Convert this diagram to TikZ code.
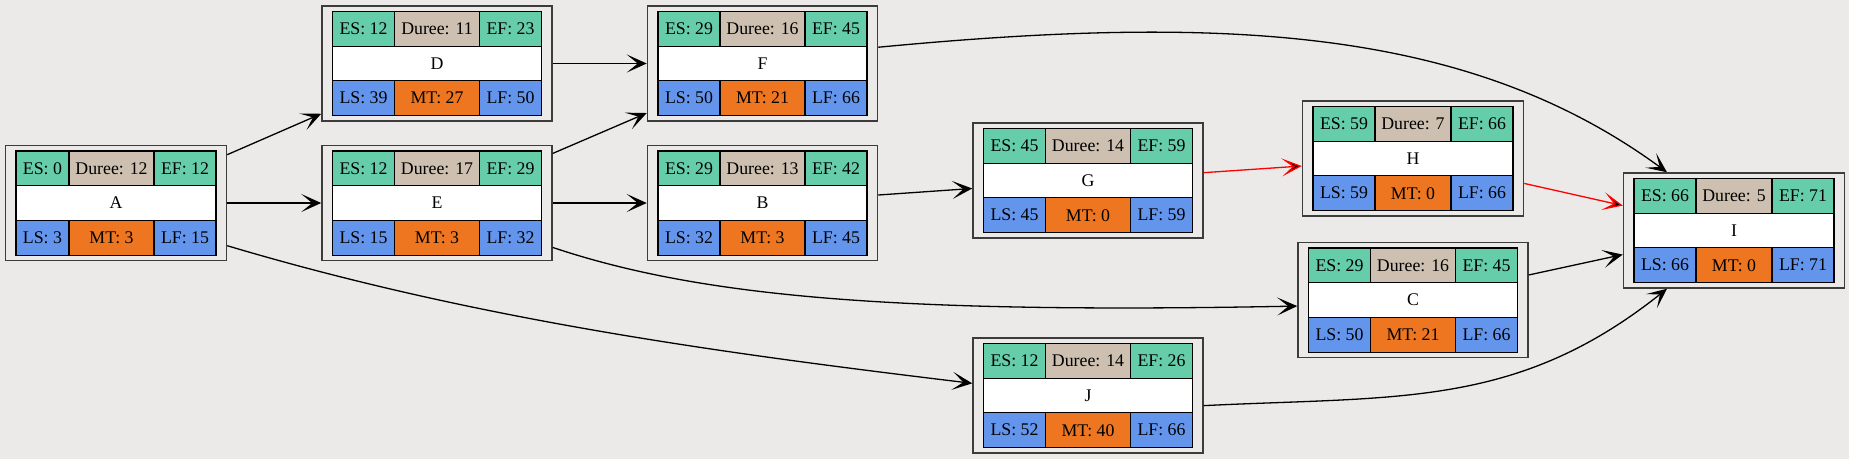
\documentclass[tikz,border=0pt]{standalone}
\usepackage{fontspec}
\setmainfont{Liberation Serif}
\usepackage{tikz}
\usetikzlibrary{positioning,arrows.meta}

\definecolor{bgc}{RGB}{235,234,232}
\definecolor{framec}{RGB}{60,60,60}
\definecolor{esc}{RGB}{102,205,170}
\definecolor{duc}{RGB}{205,192,176}
\definecolor{lsc}{RGB}{100,149,237}
\definecolor{mtc}{RGB}{238,118,33}

\tikzset{
  cell/.style={draw=black, line width=1.1pt, minimum height=34.7pt, inner sep=0pt, outer sep=0pt},
  frame/.style={draw=framec, line width=1.5pt, minimum height=115pt},
  link/.style={line width=1.3pt, -{Stealth[length=20pt,width=18pt,inset=11pt]}},
  crit/.style={link, draw=red},
}

\begin{document}
\begin{tikzpicture}[x=1pt,y=-1pt,font=\fontsize{17.8}{21}\selectfont]%
                \useasboundingbox (0,0) rectangle (1849,459);
                \fill[bgc] (0,0) rectangle (1849,459);

                % task boxes
                \foreach \n/\px/\py/\wa/\wb/\wc/\es/\du/\ef/\ls/\mt/\lf in {
                    A/116/203/53/85/62/0/12/12/3/3/15,
                    D/437/63.5/62/85/62/12/11/23/39/27/50,
                    E/437/203/62/85/62/12/17/29/15/3/32,
                    F/762.5/63.5/62/85/62/29/16/45/50/21/66,
                    B/762.5/203/62/85/62/29/13/42/32/3/45,
                    G/1088/180.5/62/85/62/45/14/59/45/0/59,
                    J/1088/395.5/62/85/62/12/14/26/52/40/66,
                    H/1413/158.5/62/76/62/59/7/66/59/0/66,
                    C/1413/300/62/85/62/29/16/45/50/21/66,
                    I/1734/230.5/62/76/62/66/5/71/66/0/71}
                {
                    \node[frame, minimum width={\wa+\wb+\wc+21}] (\n) at (\px,\py) {};
                    \node[cell, fill=white, minimum width={\wa+\wb+\wc}] (\n-lab) at (\px,\py) {\n};
                    \node[cell, fill=esc, minimum width=\wa, anchor=south west] (\n-es) at (\n-lab.north west) {ES: \es};
                    \node[cell, fill=duc, minimum width=\wb, right=0pt of \n-es] (\n-du) {Duree: \du};
                    \node[cell, fill=esc, minimum width=\wc, right=0pt of \n-du] (\n-ef) {EF: \ef};
                    \node[cell, fill=lsc, minimum width=\wa, anchor=north west] (\n-ls) at (\n-lab.south west) {LS: \ls};
                    \node[cell, fill=mtc, minimum width=\wb, right=0pt of \n-ls] (\n-mt) {MT: \mt};
                    \node[cell, fill=lsc, minimum width=\wc, right=0pt of \n-mt] (\n-lf) {LF: \lf};
                }

                \path [link] (A) edge (D);
                \path [link] (A) edge (E);
                \path [link] (D) edge (F);
                \path [link] (E) edge (F);
                \path [link] (E) edge (B);
                \path [link] (B) edge (G);
                \path [link] (C) edge (I);
                \path [crit] (G) edge (H);
                \path [crit] (H) edge (I);

                \draw [link] (A.-21) .. controls (476.5,320) and (721,353) .. (J.174);
                \draw [link] (E.-21.5) .. controls (702,297.5) and (898.5,313.7) .. (C.-177);
                \draw [link] (F.8) .. controls (1227,14) and (1470,28) .. (I.139);
                \draw [link] (J.-5) .. controls (1400,396) and (1517,408) .. (I.-139);
            \end{tikzpicture}
\end{document}
